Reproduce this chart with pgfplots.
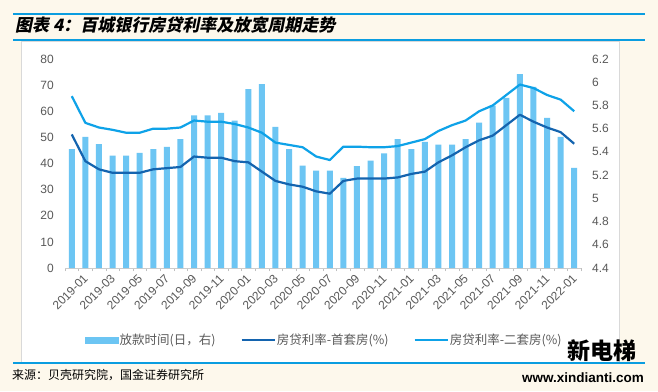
\documentclass[border=0pt]{standalone}
\usepackage{fontspec}
\setmainfont{Liberation Sans}
\newfontfamily\cjk{Noto Sans CJK SC}
\newfontfamily\cjktitle[FakeSlant=0.2]{Noto Sans CJK SC}
\usepackage{pgfplots}
\pgfplotsset{compat=1.18}
\definecolor{bgcol}{HTML}{FDF8EC}
\definecolor{barcol}{HTML}{6CC5F3}
\definecolor{darkline}{HTML}{1464AF}
\definecolor{lightline}{HTML}{0EA2E8}
\definecolor{rulecol}{HTML}{0A9DE0}
\definecolor{tickgray}{HTML}{595959}
\begin{document}
\begin{tikzpicture}
\fill[bgcol] (0pt,0pt) rectangle (658pt,391pt);
\filldraw[fill=white, draw=black!15, line width=0.6pt] (21pt,29pt) rectangle (619pt,350pt);
\draw[rulecol, line width=2pt] (13pt,377pt) -- (645pt,377pt);
\draw[rulecol, line width=2pt] (13pt,351pt) -- (645pt,351pt);
\draw[rulecol, line width=2pt] (13pt,28pt) -- (645pt,28pt);
\node[anchor=west, inner sep=0pt] at (15pt,365.5pt) {\cjktitle\bfseries\fontsize{17}{20}\selectfont 图表 4：百城银行房贷利率及放宽周期走势};
\node[anchor=west, inner sep=0pt] at (12pt,16pt) {\cjk\fontsize{12}{14}\selectfont 来源：贝壳研究院，国金证券研究所};
\node[inner sep=0pt] at (602pt,40pt) {\cjk\bfseries\fontsize{23}{25}\selectfont 新电梯};
\node[inner sep=0pt] at (583pt,13pt) {\bfseries\fontsize{13.5}{15}\selectfont www.xindianti.com};

\begin{axis}[at={(65pt,123pt)}, anchor=south west, scale only axis,
  width=516pt, height=209pt,
  xmin=-0.5, xmax=37.5, ymin=0, ymax=80,
  axis y line*=left, axis x line*=bottom,
  y axis line style={draw=none},
  x axis line style={draw=black!20, line width=0.8pt},
  xtick={0,2,...,36},
  xticklabels={2019-01,2019-03,2019-05,2019-07,2019-09,2019-11,2020-01,2020-03,2020-05,2020-07,2020-09,2020-11,2021-01,2021-03,2021-05,2021-07,2021-09,2021-11,2022-01},
  major tick length=0pt,
  minor xtick={-0.5,0.5,...,37.5},
  minor tick length=3pt, tick align=outside,
  minor x tick style={black!25},
  ytick={0,10,...,80},
  /pgf/number format/assume math mode=true,
  tick label style={font=\fontsize{12}{14}\selectfont, text=tickgray},
  yticklabel style={anchor=east, inner sep=0pt, xshift=-11pt},
  xticklabel style={rotate=45, anchor=east, inner sep=0pt, xshift=4pt, yshift=-16pt},
  ybar, bar width=6pt,
]
\addplot[fill=barcol, draw=none] coordinates {
(0,45.5) (1,50.2) (2,47.4) (3,43.0) (4,43.0) (5,44.1) (6,45.5) (7,46.4) (8,49.3) (9,58.4)
(10,58.4) (11,59.4) (12,56.4) (13,68.5) (14,70.4) (15,54.0) (16,45.5) (17,39.2) (18,37.3) (19,37.3)
(20,34.5) (21,39.0) (22,41.1) (23,43.9) (24,49.3) (25,45.5) (26,48.3) (27,47.2) (28,47.2) (29,49.3)
(30,55.6) (31,62.2) (32,65.1) (33,74.2) (34,69.3) (35,57.5) (36,50.2) (37,38.3)};
\end{axis}

\begin{axis}[at={(65pt,123pt)}, anchor=south west, scale only axis,
  width=516pt, height=209pt,
  xmin=-0.5, xmax=37.5, ymin=4.4, ymax=6.2,
  axis x line=none, axis y line*=right,
  y axis line style={draw=none},
  major tick length=0pt,
  ytick={4.4,4.6,4.8,5,5.2,5.4,5.6,5.8,6,6.2},
  yticklabels={4.4,4.6,4.8,5,5.2,5.4,5.6,5.8,6,6.2},
  tick label style={font=\fontsize{12}{14}\selectfont, text=tickgray},
  yticklabel style={anchor=west, inner sep=0pt, xshift=11pt},
  legend columns=3,
  legend cell align=left,
  legend image code/.code={\draw[#1] (0pt,0pt) -- (33pt,0pt);},
  legend style={at={(0.0388,-0.3445)}, anchor=west, draw=none, fill=none, inner sep=0pt,
    font=\cjk\fontsize{12.5}{14}\selectfont, text=tickgray,
    nodes={inner sep=1pt},
    /tikz/every even column/.append style={column sep=24pt}},
]
\addlegendimage{legend image code/.code={\fill[barcol] (0pt,-3pt) rectangle (33pt,3pt);}}
\addlegendentry{放款时间(日，右)}
\addplot[darkline, line width=2.2pt, line join=round] coordinates {
(0,5.55) (1,5.32) (2,5.25) (3,5.22) (4,5.22) (5,5.22) (6,5.25) (7,5.26) (8,5.27) (9,5.36)
(10,5.35) (11,5.35) (12,5.32) (13,5.31) (14,5.23) (15,5.15) (16,5.12) (17,5.10) (18,5.06) (19,5.04)
(20,5.15) (21,5.17) (22,5.17) (23,5.17) (24,5.18) (25,5.21) (26,5.23) (27,5.31) (28,5.37) (29,5.44)
(30,5.50) (31,5.54) (32,5.63) (33,5.72) (34,5.66) (35,5.61) (36,5.57) (37,5.47)};
\addlegendentry{房贷利率-首套房(\%)}
\addplot[lightline, line width=2.2pt, line join=round] coordinates {
(0,5.88) (1,5.65) (2,5.61) (3,5.59) (4,5.565) (5,5.565) (6,5.60) (7,5.60) (8,5.61) (9,5.67)
(10,5.66) (11,5.66) (12,5.64) (13,5.61) (14,5.565) (15,5.48) (16,5.46) (17,5.44) (18,5.36) (19,5.33)
(20,5.445) (21,5.445) (22,5.44) (23,5.44) (24,5.45) (25,5.48) (26,5.51) (27,5.58) (28,5.63) (29,5.67)
(30,5.75) (31,5.80) (32,5.89) (33,5.98) (34,5.95) (35,5.89) (36,5.85) (37,5.75)};
\addlegendentry{房贷利率-二套房(\%)}
\end{axis}
\end{tikzpicture}
\end{document}
